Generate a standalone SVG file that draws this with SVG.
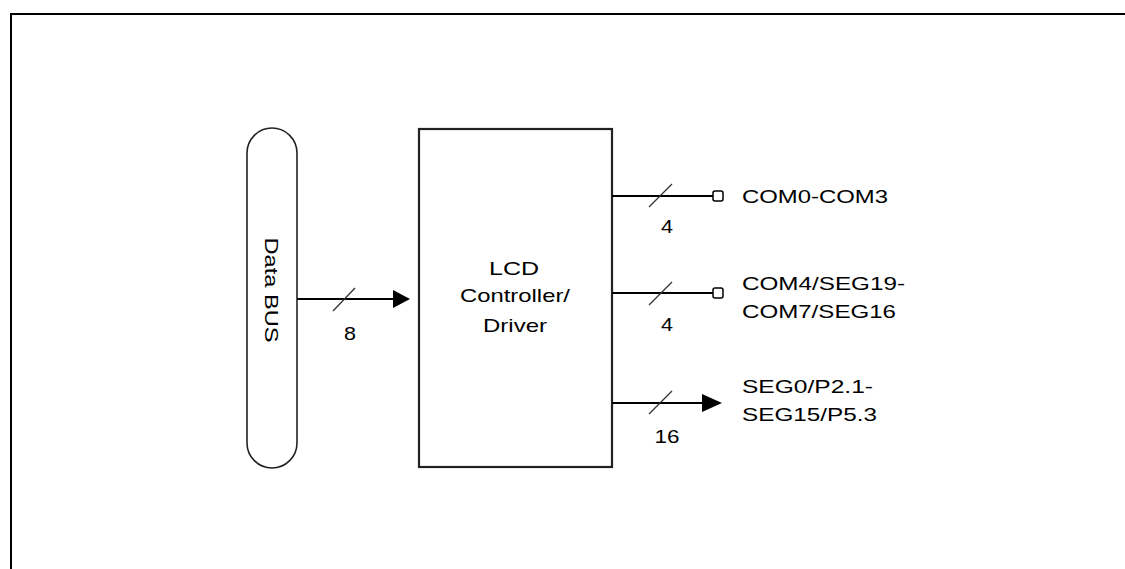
<svg xmlns="http://www.w3.org/2000/svg" width="1125" height="569" viewBox="0 0 1125 569">
<defs>
<style>
.ln{stroke:#000;stroke-width:2;fill:none}
.sl{stroke:#333;stroke-width:1.3;fill:none}
.t{font-family:"Liberation Sans",Arial,sans-serif;font-size:19px;fill:#000}
.m{text-anchor:middle}
</style>
</defs>
<rect width="1125" height="569" fill="#fff"/>
<path class="ln" d="M11,569 V14 H1125"/>
<g id="bus">
<rect x="247" y="128" width="50" height="340" rx="25" ry="25" fill="#fff" stroke="#222" stroke-width="1.6"/>
<text class="t m" transform="translate(265,290) rotate(90)" textLength="105" lengthAdjust="spacingAndGlyphs">Data BUS</text>
</g>
<g id="lcd">
<rect x="419" y="129" width="193" height="338" fill="#fff" stroke="#222" stroke-width="2.2"/>
<text class="t m" x="514" y="275" textLength="50" lengthAdjust="spacingAndGlyphs">LCD</text>
<text class="t m" x="515" y="302" textLength="110" lengthAdjust="spacingAndGlyphs">Controller/</text>
<text class="t m" x="515" y="332" textLength="64" lengthAdjust="spacingAndGlyphs">Driver</text>
</g>
<g id="connectors">
<path class="ln" d="M297,299 H395"/>
<polygon points="393,290 410,299 393,308" fill="#000"/>
<path class="sl" d="M333,311 L355,288"/>
<text class="t m" x="350" y="340" textLength="12" lengthAdjust="spacingAndGlyphs">8</text>
<path class="ln" d="M612,196 H713"/>
<rect x="713" y="191" width="10" height="10" rx="2" fill="#fff" stroke="#000" stroke-width="1.5"/>
<path class="sl" d="M649,207 L672,184"/>
<text class="t m" x="667" y="233" textLength="12" lengthAdjust="spacingAndGlyphs">4</text>
<path class="ln" d="M612,293 H713"/>
<rect x="713" y="288" width="10" height="10" rx="2" fill="#fff" stroke="#000" stroke-width="1.5"/>
<path class="sl" d="M649,305 L672,282"/>
<text class="t m" x="667" y="331" textLength="12" lengthAdjust="spacingAndGlyphs">4</text>
<path class="ln" d="M612,403 H704"/>
<polygon points="702,394 722,403 702,412" fill="#000"/>
<path class="sl" d="M649,414 L672,391"/>
<text class="t m" x="667" y="443" textLength="25" lengthAdjust="spacingAndGlyphs">16</text>
</g>
<g id="labels">
<text class="t" x="742" y="203" textLength="146" lengthAdjust="spacingAndGlyphs">COM0-COM3</text>
<text class="t" x="742" y="290" textLength="163" lengthAdjust="spacingAndGlyphs">COM4/SEG19-</text>
<text class="t" x="742" y="318" textLength="154" lengthAdjust="spacingAndGlyphs">COM7/SEG16</text>
<text class="t" x="742" y="393" textLength="131" lengthAdjust="spacingAndGlyphs">SEG0/P2.1-</text>
<text class="t" x="742" y="421" textLength="135" lengthAdjust="spacingAndGlyphs">SEG15/P5.3</text>
</g>
</svg>
